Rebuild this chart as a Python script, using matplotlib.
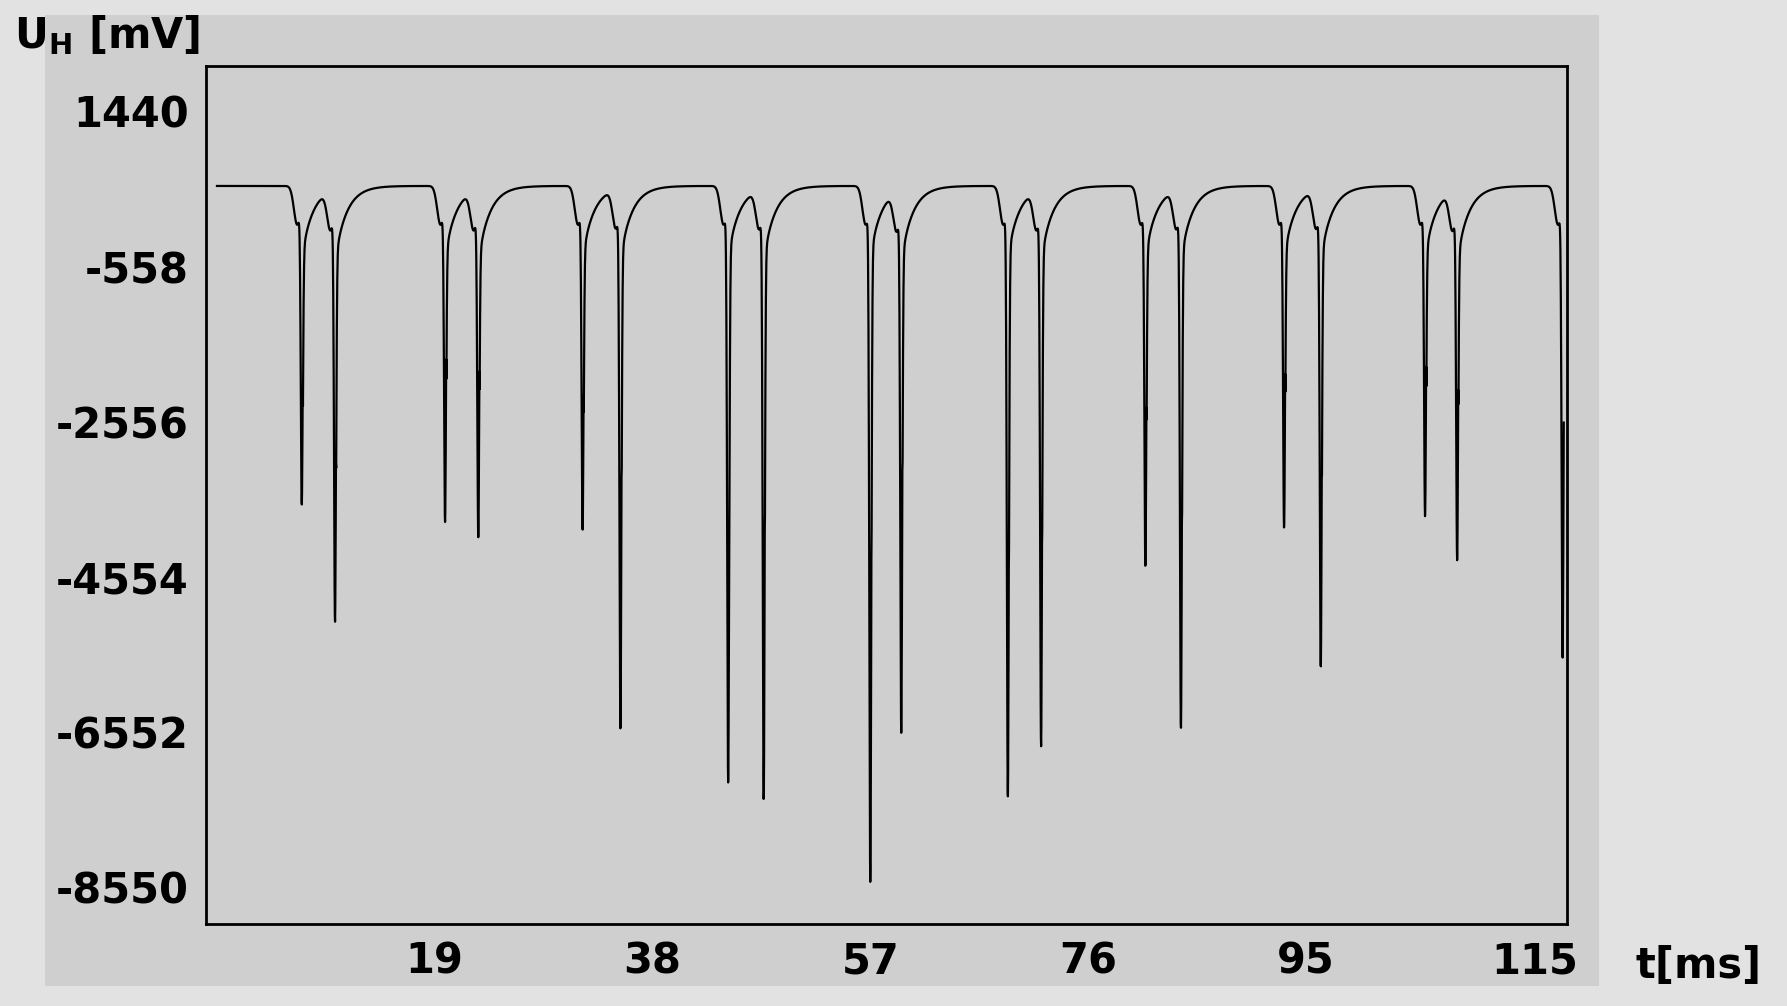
import numpy as np
import matplotlib
matplotlib.use("Agg")
import matplotlib.pyplot as plt
plt.rcParams['axes.unicode_minus'] = False

spike_t = [7.4,10.3,19.9,22.8,31.9,35.2,44.6,47.7,57.0,59.7,69.0,71.9,81.0,84.1,93.1,96.3,105.4,108.2,117.4]
spike_v = [-3446,-4904,-3664,-3810,-3781,-6290,-7019,-7208,-8302,-6319,-7208,-6508,-4248,-6290,-3737,-5516,-3591,-4102,-5414]
baseline = 480
yticks = [1440,-558,-2556,-4554,-6552,-8550]
xticks = [19,38,57,76,95,115]

t = np.linspace(0, 117.5, 6000)
v = np.full_like(t, baseline, dtype=float)
for ts, vs in zip(spike_t, spike_v):
    d = t - ts
    v += (vs - baseline) * np.exp(-(d / 0.12) ** 2)
    v += -900 * np.where(d > 0, np.exp(-d / 1.0), 0) * (d > 0.1)
    v += -500 * np.exp(-((d + 0.4) / 0.4) ** 2)

fig = plt.figure(figsize=(17.87, 10.06), dpi=100)
fig.patch.set_facecolor("#e2e2e2")
fig.add_artist(plt.Rectangle((0.025, 0.02), 0.87, 0.965, transform=fig.transFigure,
                             facecolor="#cfcfcf", edgecolor="none", zorder=-1))
ax = fig.add_axes([0.115, 0.082, 0.762, 0.852])
ax.set_facecolor("#cfcfcf")
ax.plot(t, v, color="black", lw=1.6)
ax.set_xlim(-1, 117.8)
ax.set_ylim(-9020, 2020)
ax.set_yticks(yticks)
ax.set_xticks(xticks)
ax.tick_params(length=0, labelsize=30, pad=12)
for lab in ax.get_xticklabels() + ax.get_yticklabels():
    lab.set_fontweight("bold")
for s in ax.spines.values():
    s.set_linewidth(2)
fig.text(0.008, 0.965, r"U$_\mathbf{H}$ [mV]", fontsize=30, fontweight="bold", va="center")
fig.text(0.915, 0.04, "t[ms]", fontsize=30, fontweight="bold", va="center")
fig.savefig("out.png", dpi=100, facecolor=fig.get_facecolor())
